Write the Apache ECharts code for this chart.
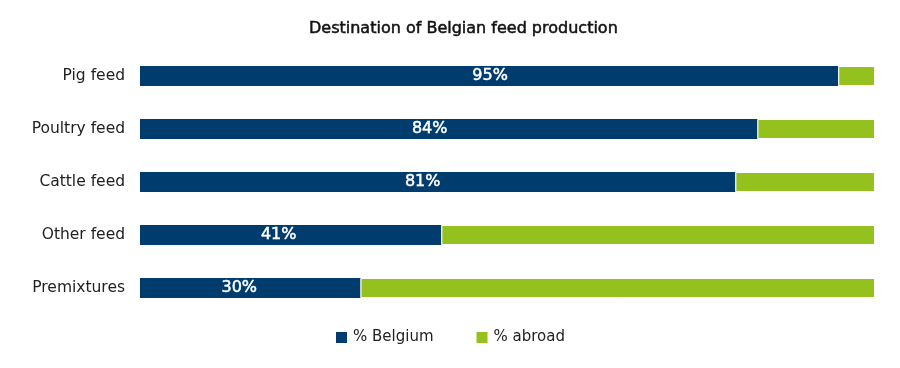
<!DOCTYPE html>
<html>
<head>
<meta charset="utf-8">
<script src="https://cdn.jsdelivr.net/npm/echarts@6/dist/echarts.min.js"></script>
<style>
html,body{margin:0;padding:0;background:#fff;}
#chart{width:900px;height:368px;}
</style>
</head>
<body>
<div id="chart"></div>
<script>
var categories = ['Pig feed', 'Poultry feed', 'Cattle feed', 'Other feed', 'Premixtures'];
var belgium = [95, 84, 81, 41, 30];
var abroad = [5, 16, 19, 59, 70];
var seriesNames = ['% Belgium', '% abroad'];
var titleText = 'Destination of Belgian feed production';

// label horizontal shift (style only, as in the reference)
var labelShift = [1, -19, -15, -12, -11];

var FONT = '"DejaVu Sans", sans-serif';
var chart = echarts.init(document.getElementById('chart'), null, {renderer: 'canvas'});

var belgiumData = belgium.map(function (v, i) {
  return {value: v, label: {offset: [labelShift[i], 0]}};
});

chart.setOption({
  animation: false,
  backgroundColor: '#fff',
  title: {
    text: titleText,
    left: 304, top: 16,
    textStyle: {fontFamily: FONT, fontSize: 16, fontWeight: 'normal', color: '#111',
                textBorderColor: '#111', textBorderWidth: 0.5}
  },
  legend: {
    data: seriesNames,
    left: 331, top: 325,
    icon: 'rect', itemWidth: 11, itemHeight: 11, itemGap: 43,
    itemStyle: {borderWidth: 0},
    textStyle: {fontFamily: FONT, fontSize: 15, color: '#222', padding: [0, 0, 0, 1]}
  },
  grid: {left: 140, right: 25, top: 49.5, bottom: 53.5, containLabel: false},
  xAxis: {
    type: 'value', min: 0, max: 100, show: false
  },
  yAxis: {
    type: 'category', data: categories, inverse: true,
    axisLine: {show: false}, axisTick: {show: false}, splitLine: {show: false},
    axisLabel: {fontFamily: FONT, fontSize: 15.5, color: '#222', margin: 15}
  },
  series: [
    {
      name: seriesNames[0], type: 'bar', stack: 'a', data: belgiumData, barWidth: 20,
      itemStyle: {color: '#003d6e'},
      label: {show: true, position: 'inside', formatter: '{c}%', color: '#fff',
              fontFamily: FONT, fontSize: 16, fontWeight: 'normal',
              textBorderColor: '#fff', textBorderWidth: 0.5}
    },
    {
      name: seriesNames[1], type: 'bar', stack: 'a', data: abroad, barWidth: 20,
      itemStyle: {color: '#95c11f', borderColor: '#fff', borderWidth: 1}
    }
  ]
});
</script>
</body>
</html>
